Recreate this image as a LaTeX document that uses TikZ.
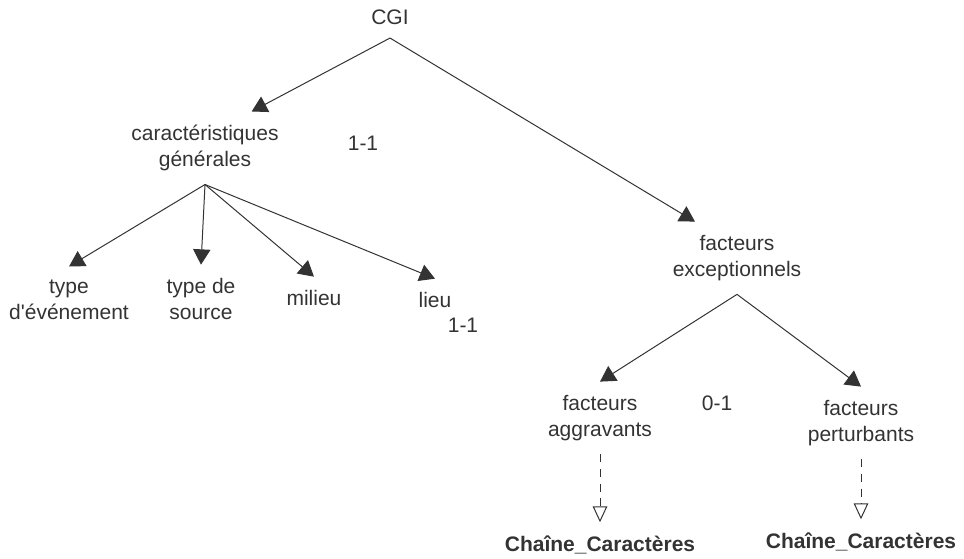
\documentclass[tikz,border=0pt]{standalone}
\usepackage{fontspec}
\setmainfont{Liberation Sans}[Ligatures=TeXOff]
\usetikzlibrary{positioning,arrows.meta}
\definecolor{ink}{HTML}{333333}

\begin{document}
\begin{tikzpicture}[x=0.75pt,y=-0.75pt,on grid,
        every node/.style={text=ink,font=\fontsize{15.75pt}{19.5pt}\selectfont,align=center,inner xsep=1pt,inner ysep=10pt},
        card/.style={inner ysep=0pt},
        typebox/.style={font=\fontsize{15.75pt}{19.5pt}\selectfont\bfseries},
        link/.style={draw=ink,line width=0.75pt,-{Triangle[length=11.5pt,width=13pt]}},
        typelink/.style={draw=ink,line width=0.75pt,dash pattern=on 6pt off 5pt,-{Triangle[open,length=12pt,width=11pt]}}]
        \useasboundingbox (0,0) rectangle (964,559);

        \node (cgi) at (390,17) {CGI};
        \node[below left=98.25pt and 138.75pt of cgi] (car) {caractéristiques\\générales};
        \node[below right=180.75pt and 260.25pt of cgi] (fexc) {facteurs\\exceptionnels};

        \node[below left=114pt and 102pt of car] (typeev) {type\\d'événement};
        \node[below left=113.25pt and 3pt of car] (typesrc) {type de\\source};
        \node[below right=112.5pt and 81.75pt of car] (milieu) {milieu};
        \node[below right=114pt and 172.5pt of car] (lieu) {lieu};

        \node[below left=120pt and 102.75pt of fexc] (fagg) {facteurs\\aggravants};
        \node[below right=123.75pt and 93pt of fexc] (fpert) {facteurs\\perturbants};
        \node[typebox,below=95.25pt of fagg] (chaineA) {Chaîne\_Caractères};
        \node[typebox,below=89.25pt of fpert] (chaineB) {Chaîne\_Caractères};

        % cardinalites
        \node[card,above right=3.75pt and 118.5pt of car] (cardA) {1-1};
        \node[card,below right=18.75pt and 21pt of lieu] (cardB) {1-1};
        \node[card,below left=108.75pt and 15pt of fexc] (cardC) {0-1};

        \draw[link] (cgi.south) -- ([xshift=35pt]car.north);
        \draw[link] (cgi.south) -- ([xshift=-31.5pt]fexc.north);
        \foreach \u / \v in {car/typeev,car/typesrc,car/milieu,car/lieu,fexc/fagg,fexc/fpert}
            \draw[link] (\u.south) -- (\v.north);
        \foreach \u / \v in {fagg/chaineA,fpert/chaineB}
            \draw[typelink] (\u.south) -- (\v.north);
\end{tikzpicture}
\end{document}
